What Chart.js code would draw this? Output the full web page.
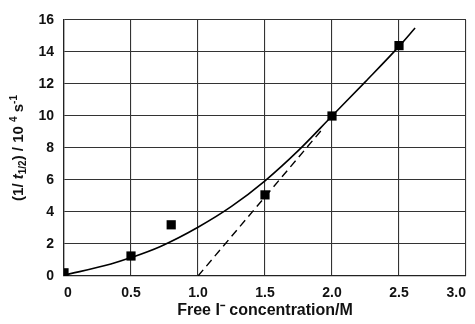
<!DOCTYPE html>
<html>
<head>
<meta charset="utf-8">
<script src="https://cdn.jsdelivr.net/npm/chart.js@4"></script>
<style>
  html, body { margin: 0; padding: 0; background: #fff; }
  #wrap { width: 475px; height: 324px; }
</style>
</head>
<body>
<div id="wrap"><canvas id="chart" width="475" height="324"></canvas></div>
<script>
// measured points (squares)
const pointX = [0, 0.5, 0.8, 1.5, 2.0, 2.5];
const pointY = [0.2, 1.25, 3.2, 5.07, 10.0, 14.4];

// fitted curve
const curveX = [0, 0.35, 0.5, 0.72, 1.0, 1.25, 1.5, 1.75, 2.0, 2.25, 2.5, 2.62];
const curveY = [0.05, 0.75, 1.15, 1.85, 3.05, 4.35, 5.95, 7.85, 10.0, 12.15, 14.35, 15.5];

// tangent (dashed)
const dashX = [1.0, 1.93];
const dashY = [0, 9.2];

const xTicks = [0, 0.5, 1.0, 1.5, 2.0, 2.5, 3.0];
const xTickLabels = ['0', '0.5', '1.0', '1.5', '2.0', '2.5', '3.0'];
const yTicks = [0, 2, 4, 6, 8, 10, 12, 14, 16];

const FONT = '"Liberation Sans", Arial, sans-serif';

function toXY(xs, ys) {
    return xs.map((x, i) => ({ x: x, y: ys[i] }));
}

// y axis title with sub/superscripts
const yTitlePlugin = {
    id: 'yTitle',
    afterDraw(chart) {
        const ctx = chart.ctx;
        const area = chart.chartArea;
        const parts = [
            { t: '(1/ ', f: 'bold 15px ' + FONT, dy: 0 },
            { t: 't', f: 'italic bold 15px ' + FONT, dy: 0 },
            { t: '1/2', f: 'bold 10px ' + FONT, dy: 4 },
            { t: ') / 10 ', f: 'bold 15px ' + FONT, dy: 0 },
            { t: '4', f: 'bold 10px ' + FONT, dy: -5 },
            { t: ' s', f: 'bold 15px ' + FONT, dy: 0 },
            { t: '-1', f: 'bold 10px ' + FONT, dy: -5 }
        ];
        let total = 0;
        parts.forEach(p => { ctx.font = p.f; p.w = ctx.measureText(p.t).width; total += p.w; });
        ctx.save();
        ctx.translate(19, (area.top + area.bottom) / 2);
        ctx.rotate(-Math.PI / 2);
        ctx.fillStyle = '#111';
        ctx.textBaseline = 'middle';
        ctx.textAlign = 'left';
        let x = -total / 2;
        parts.forEach(p => {
            ctx.font = p.f;
            ctx.fillText(p.t, x, p.dy);
            x += p.w;
        });
        ctx.restore();
    }
};

new Chart(document.getElementById('chart'), {
    type: 'scatter',
    data: {
        datasets: [
            {
                label: 'curve',
                data: toXY(curveX, curveY),
                showLine: true,
                borderColor: '#000',
                borderWidth: 1.6,
                pointRadius: 0,
                cubicInterpolationMode: 'monotone',
                fill: false
            },
            {
                label: 'tangent',
                data: toXY(dashX, dashY),
                showLine: true,
                borderColor: '#000',
                borderWidth: 1.4,
                borderDash: [8, 5],
                pointRadius: 0,
                fill: false
            },
            {
                label: 'data',
                data: toXY(pointX, pointY),
                showLine: false,
                pointStyle: 'rect',
                pointRadius: 6.5,
                backgroundColor: '#000',
                borderColor: '#000',
                borderWidth: 0,
                clip: 0
            }
        ]
    },
    options: {
        responsive: false,
        animation: false,
        layout: { padding: { left: 0, top: 20, right: 1, bottom: 0 } },
        plugins: {
            legend: { display: false },
            tooltip: { enabled: false }
        },
        scales: {
            x: {
                type: 'linear',
                min: 0,
                max: 3,
                afterBuildTicks: axis => { axis.ticks = xTicks.map(v => ({ value: v })); },
                afterFit: axis => { axis.height = 48; },
                ticks: {
                    color: '#111',
                    font: { family: FONT, size: 14, weight: 'bold' },
                    padding: 9,
                    align: 'inner',
                    maxRotation: 0,
                    callback: (v) => xTickLabels[xTicks.indexOf(v)]
                },
                grid: { color: '#333', lineWidth: 1.1, drawTicks: false },
                border: { color: '#222', width: 1.3 },
                title: {
                    display: true,
                    text: 'Free I\u207B concentration/M',
                    color: '#111',
                    font: { family: FONT, size: 16, weight: 'bold' },
                    padding: { top: 10 }
                }
            },
            y: {
                min: 0,
                max: 16,
                afterBuildTicks: axis => { axis.ticks = yTicks.map(v => ({ value: v })); },
                afterFit: axis => { axis.width = 64; },
                ticks: {
                    color: '#111',
                    font: { family: FONT, size: 14, weight: 'bold' },
                    padding: 10
                },
                grid: { color: '#333', lineWidth: 1.1, drawTicks: false },
                border: { color: '#222', width: 1.3 }
            }
        }
    },
    plugins: [yTitlePlugin]
});
</script>
</body>
</html>
